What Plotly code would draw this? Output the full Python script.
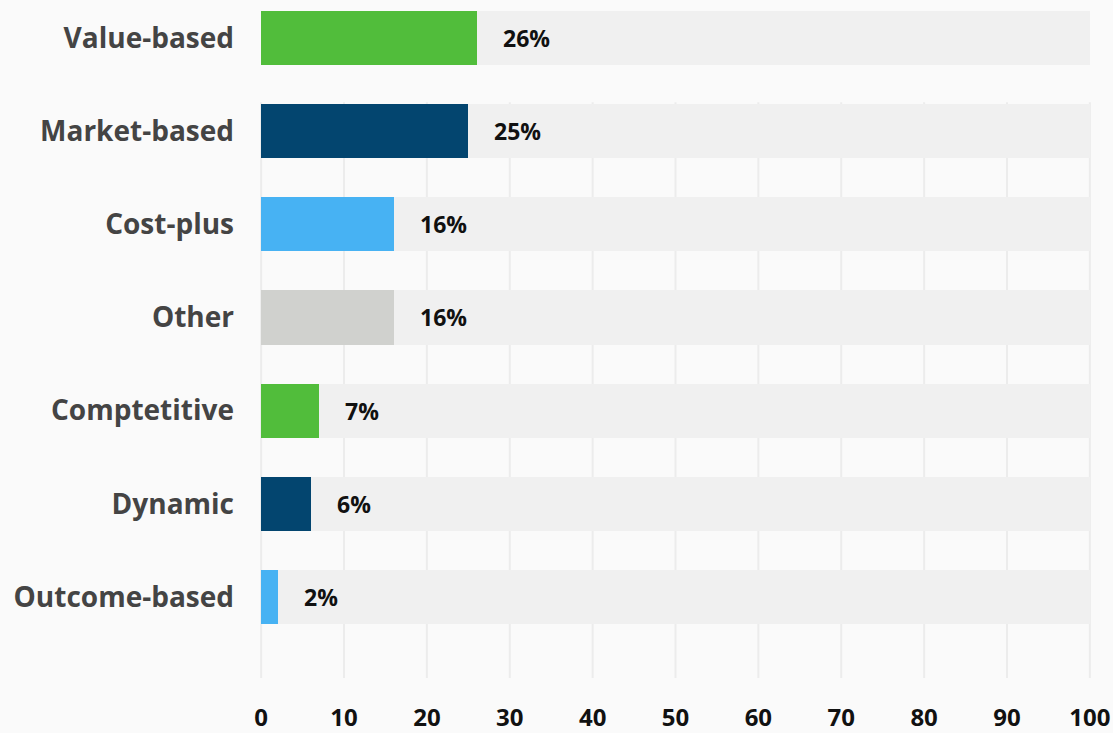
import plotly.graph_objects as go

# Pricing approaches and their share of respondents (%)
categories = ["Value-based", "Market-based", "Cost-plus", "Other",
              "Comptetitive", "Dynamic", "Outcome-based"]
shares = [26, 25, 16, 16, 7, 6, 2]
bar_colors = ["#51bd3b", "#03456f", "#47b2f3", "#d0d1ce",
              "#51bd3b", "#03456f", "#47b2f3"]
x_ticks = [0, 10, 20, 30, 40, 50, 60, 70, 80, 90, 100]
track_max = 100

FONT = "Open Sans"
positions = list(range(len(categories)))

fig = go.Figure()

# full-length background tracks
fig.add_trace(go.Bar(
    y=positions, x=[track_max] * len(categories), orientation="h",
    marker=dict(color="#f0f0f0", line=dict(width=0)),
    width=0.58, hoverinfo="skip", showlegend=False,
))

# actual values
fig.add_trace(go.Bar(
    y=positions, x=shares, orientation="h",
    marker=dict(color=bar_colors, line=dict(width=0)),
    width=0.58, showlegend=False,
))

# vertical gridlines, starting below the first row
for v in x_ticks:
    fig.add_shape(type="line", xref="x", yref="y",
                  x0=v, x1=v, y0=0.69, y1=6.87,
                  line=dict(color="#ececec", width=2), layer="below")

# value labels to the right of each bar
for p, s in zip(positions, shares):
    fig.add_annotation(x=s, y=p, xref="x", yref="y", text=f"<b>{s}%</b>",
                       showarrow=False, xanchor="left", yanchor="middle",
                       xshift=24, font=dict(family=FONT, size=23, color="#111111"))

fig.update_layout(
    width=1113, height=733,
    margin=dict(l=257, r=19, t=0, b=55),
    paper_bgcolor="#fafafa", plot_bgcolor="#fafafa",
    barmode="overlay", bargap=0,
    font=dict(family=FONT),
)
fig.update_xaxes(
    range=[-0.5, 100.5], tickvals=x_ticks,
    ticktext=[f"<b>{t}</b>" for t in x_ticks],
    showgrid=False, zeroline=False, showline=False,
    ticks="", ticklabelstandoff=23, automargin=False,
    tickfont=dict(family=FONT, size=24, color="#111111"),
)
fig.update_yaxes(
    range=[6.87, -0.408], tickvals=positions,
    ticktext=[f"<b>{c}</b>" for c in categories],
    showgrid=False, zeroline=False, showline=False,
    ticks="", ticklabelstandoff=22, automargin=False,
    tickfont=dict(family=FONT, size=28, color="#444444"),
)

fig.write_html("out.html")
